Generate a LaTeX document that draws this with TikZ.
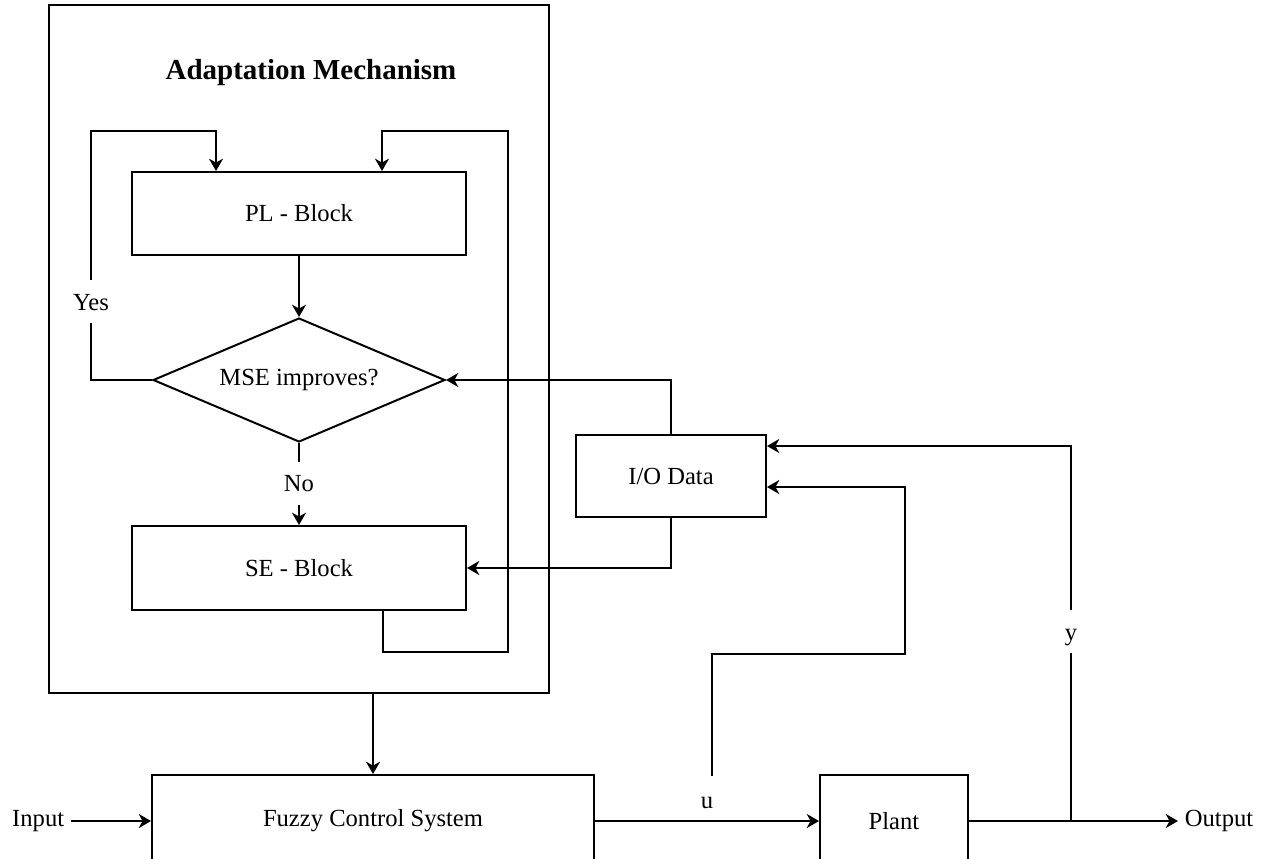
\documentclass[tikz,border=0pt]{standalone}
\usepackage{fontspec}
\setmainfont{Liberation Serif}
\usetikzlibrary{arrows.meta, shapes.geometric, calc}
\tikzset{
  every picture/.style={font=\fontsize{14}{17}\selectfont, line width=1.14pt},
  block/.style={draw, align=center, inner sep=0pt, minimum width=6.68cm, minimum height=1.66cm},
  decision/.style={diamond, draw, aspect=2.35, inner sep=0pt, minimum width=5.84cm, minimum height=2.48cm},
  arrow/.style={-{Stealth[length=7pt, width=8pt, inset=2.2pt]}},
  title/.style={font=\bfseries\fontsize{16.5}{19}\selectfont},
  lbl/.style={fill=white, inner xsep=3pt, inner ysep=5.2pt, text height=12pt, text depth=2pt},
}

\begin{document}
\begin{tikzpicture}[x=0.02cm, y=-0.02cm]
  \useasboundingbox (0,0) rectangle (1266,858);
  \node[draw, minimum width=10cm, minimum height=13.76cm] (adapt) at (299,349) {};
  \node[title] (ttl) at (311,73) {Adaptation Mechanism};
  \node[block] (pl) at (299,213.5) {PL - Block};
  \node[decision] (dia) at (299,380) {MSE improves?};
  \node[block, minimum height=1.68cm] (se) at (299,568) {SE - Block};
  \node[block, minimum width=3.8cm, minimum height=1.64cm] (io) at (671,476) {I/O Data};
  \node[block, minimum width=8.84cm, minimum height=1.84cm] (fcs) at (373,821) {Fuzzy Control System};
  \node[block, minimum width=2.96cm, minimum height=1.84cm] (plant) at (894,821) {Plant};
  \node[anchor=east] (in) at (71,821) {Input};
  \node[anchor=west] (out) at (1178,821) {Output};
  \coordinate (yl) at (91,131);
  \coordinate (rb) at (508,652);
  \coordinate (rt) at (508,131);
  \coordinate (yj) at (1071,821);
  \coordinate (yt) at (1071,446);
  \coordinate (uj) at (712,776);
  \coordinate (uc) at (905,654);
  \coordinate (ut) at (905,487);
  \draw[arrow] (pl) -- (dia);
  \draw[arrow] (dia) -- node[lbl, pos=0.49]{No} (se);
  \draw[arrow] (dia.west) -| node[lbl, pos=0.658]{Yes} (yl) -| ([xshift=-1.66cm]pl.north);
  \draw[arrow] ([xshift=1.68cm]se.south) |- (rb) -- (rt) -| ([xshift=1.66cm]pl.north);
  \draw[arrow] (io.north) |- (dia.east);
  \draw[arrow] (io.south) |- (se.east);
  \draw[arrow] (adapt.south -| fcs.north) -- (fcs.north);
  \draw[arrow] (in.east) -- (fcs.west);
  \draw[arrow] (fcs.east) -- node[above=3pt]{u} (plant.west);
  \draw[arrow] (plant.east) -- (out.west);
  \draw[arrow] (yj) -- node[lbl, pos=0.505]{y} (yt) -- (yt -| io.east);
  \draw[arrow] (uj) |- (uc) -- (ut) -- (ut -| io.east);
\end{tikzpicture}
\end{document}
